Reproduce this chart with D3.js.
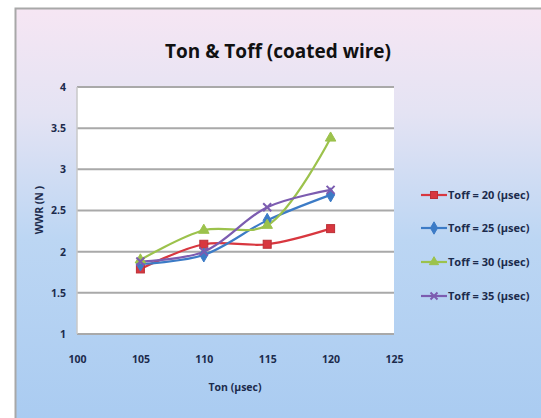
<!DOCTYPE html>
<html>
<head>
<meta charset="utf-8">
<script src="https://cdn.jsdelivr.net/npm/d3@7"></script>
<style>
  html, body { margin: 0; padding: 0; background: #ffffff; }
  svg { display: block; }
  text { font-family: "Open Sans", "Liberation Sans", sans-serif; }
</style>
</head>
<body>
<svg id="chart" width="541" height="418"></svg>
<script>
// Ton values on the x axis (µsec)
const tonValues = [105, 110, 115, 120];

// Wire wear rate per Toff setting
const toff20 = [1.79, 2.09, 2.09, 2.28];
const toff25 = [1.85, 1.96, 2.38, 2.69];
const toff30 = [1.90, 2.26, 2.32, 3.38];
const toff35 = [1.88, 2.00, 2.54, 2.75];

const seriesNames = ["Toff = 20 (µsec)", "Toff = 25 (µsec)", "Toff = 30 (µsec)", "Toff = 35 (µsec)"];
const xTicks = [100, 105, 110, 115, 120, 125];
const yTicks = [1, 1.5, 2, 2.5, 3, 3.5, 4];

const titleText = "Ton & Toff  (coated wire)";
const xTitle = "Ton (µsec)";
const yTitle = "WWR (N )";

const series = [
  { name: seriesNames[0], values: toff20, color: "#d8373f", marker: "square" },
  { name: seriesNames[1], values: toff25, color: "#3c7bc6", marker: "diamond" },
  { name: seriesNames[2], values: toff30, color: "#9cc24c", marker: "triangle" },
  { name: seriesNames[3], values: toff35, color: "#7c5cb0", marker: "cross" }
];

const svg = d3.select("#chart");
const textColor = "#1c2b4c";

// background gradient of the chart area
const defs = svg.append("defs");
const bg = defs.append("linearGradient").attr("id", "bgGrad")
  .attr("x1", 0).attr("y1", 0).attr("x2", 0).attr("y2", 1);
bg.append("stop").attr("offset", "0%").attr("stop-color", "#f6e6f3");
bg.append("stop").attr("offset", "25%").attr("stop-color", "#e4e3f3");
bg.append("stop").attr("offset", "55%").attr("stop-color", "#bcd6f3");
bg.append("stop").attr("offset", "100%").attr("stop-color", "#a9cbf1");

svg.append("rect")
  .attr("x", 15.5).attr("y", 8.5).attr("width", 530).attr("height", 420)
  .attr("fill", "url(#bgGrad)")
  .attr("stroke", "#a8a8a8").attr("stroke-width", 2);

// plot geometry
const plot = { left: 77, top: 87, right: 394, bottom: 334 };

const x = d3.scaleLinear().domain([100, 125]).range([plot.left, plot.right]);
const y = d3.scaleLinear().domain([1, 4]).range([plot.bottom, plot.top]);

svg.append("rect")
  .attr("x", plot.left).attr("y", plot.top)
  .attr("width", plot.right - plot.left).attr("height", plot.bottom - plot.top)
  .attr("fill", "#ffffff");

// horizontal gridlines
svg.append("g")
  .selectAll("line")
  .data(yTicks)
  .join("line")
  .attr("x1", plot.left).attr("x2", plot.right)
  .attr("y1", d => y(d)).attr("y2", d => y(d))
  .attr("stroke", "#a9a9a9").attr("stroke-width", 2);

// y axis line
svg.append("line")
  .attr("x1", plot.left).attr("x2", plot.left)
  .attr("y1", plot.top).attr("y2", plot.bottom)
  .attr("stroke", "#c8c8c8").attr("stroke-width", 1.5);

// y axis ticks
const yAxis = d3.axisLeft(y).tickValues(yTicks).tickSize(0).tickPadding(11)
  .tickFormat(d => String(d));
const gy = svg.append("g").attr("transform", `translate(${plot.left},0)`).call(yAxis);
gy.select(".domain").remove();
gy.selectAll("text")
  .attr("fill", textColor).attr("font-size", 10.5).attr("font-weight", "bold");

// x axis ticks
const xAxis = d3.axisBottom(x).tickValues(xTicks).tickSize(0).tickPadding(22)
  .tickFormat(d => String(d));
const gx = svg.append("g").attr("transform", `translate(0,${plot.bottom})`).call(xAxis);
gx.select(".domain").remove();
gx.selectAll("text")
  .attr("fill", textColor).attr("font-size", 10.5).attr("font-weight", "bold");

// titles
svg.append("text")
  .attr("x", 278).attr("y", 58)
  .attr("text-anchor", "middle")
  .attr("font-size", 19).attr("font-weight", "bold")
  .attr("fill", "#111111")
  .text(titleText);

svg.append("text")
  .attr("x", 235).attr("y", 391)
  .attr("text-anchor", "middle")
  .attr("font-size", 10.5).attr("font-weight", "bold")
  .attr("fill", textColor)
  .text(xTitle);

svg.append("text")
  .attr("transform", `translate(43,${210}) rotate(-90)`)
  .attr("text-anchor", "middle")
  .attr("font-size", 10.5).attr("font-weight", "bold")
  .attr("fill", textColor)
  .text(yTitle);

// marker drawing
function drawMarker(g, type, color, size) {
  const s = size;
  if (type === "square") {
    g.append("rect").attr("x", -s / 2).attr("y", -s / 2).attr("width", s).attr("height", s)
      .attr("fill", color).attr("stroke", d3.color(color).darker(0.4)).attr("stroke-width", 1);
  } else if (type === "diamond") {
    g.append("path").attr("d", d3.symbol(d3.symbolDiamond, s * s * 0.9)())
      .attr("fill", color).attr("stroke", color);
  } else if (type === "triangle") {
    g.append("path").attr("d", d3.symbol(d3.symbolTriangle, s * s * 0.75)())
      .attr("fill", color).attr("stroke", color);
  } else if (type === "cross") {
    const h = s / 2;
    g.append("path").attr("d", `M${-h},${-h}L${h},${h}M${-h},${h}L${h},${-h}`)
      .attr("stroke", color).attr("stroke-width", 2).attr("fill", "none");
  }
}

const line = d3.line()
  .x((d, i) => x(tonValues[i]))
  .y(d => y(d))
  .curve(d3.curveCatmullRom.alpha(0.5));

const gSeries = svg.append("g");
series.forEach(s => {
  gSeries.append("path")
    .attr("d", line(s.values))
    .attr("fill", "none")
    .attr("stroke", s.color)
    .attr("stroke-width", 2.2);
});
series.forEach(s => {
  s.values.forEach((v, i) => {
    const g = gSeries.append("g").attr("transform", `translate(${x(tonValues[i])},${y(v)})`);
    drawMarker(g, s.marker, s.color, 8);
  });
});

// legend
const legendY = [195, 228, 262, 296];
const lg = svg.append("g");
series.forEach((s, i) => {
  const g = lg.append("g").attr("transform", `translate(0,${legendY[i]})`);
  g.append("line").attr("x1", 421).attr("x2", 447).attr("y1", 0).attr("y2", 0)
    .attr("stroke", s.color).attr("stroke-width", 2.2);
  const m = g.append("g").attr("transform", "translate(434,0)");
  drawMarker(m, s.marker, s.color, 7);
  g.append("text").attr("x", 448).attr("y", 4)
    .attr("font-size", 11).attr("font-weight", "bold")
    .attr("fill", textColor)
    .text(s.name);
});
</script>
</body>
</html>
